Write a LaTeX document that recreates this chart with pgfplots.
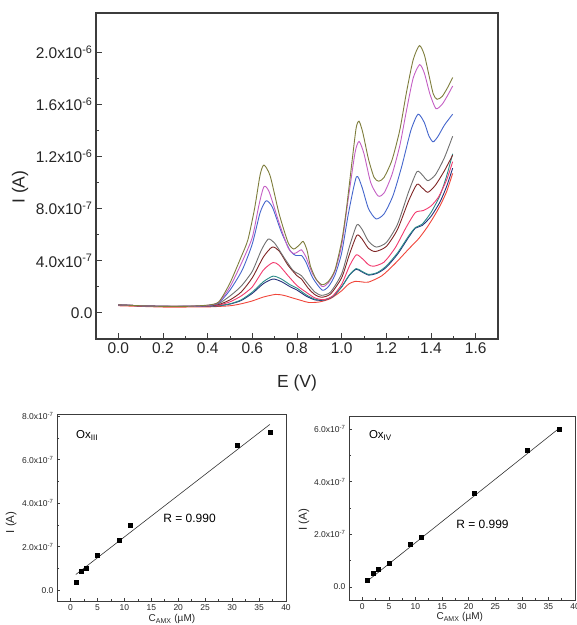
\documentclass[border=0pt]{standalone}
\usepackage{pgfplots}
\pgfplotsset{compat=1.18}
\usepackage{fontspec}
\setmainfont{Liberation Sans}

\definecolor{cOlive}{HTML}{7E7D3C}
\definecolor{cMag}{HTML}{C45FC4}
\definecolor{cBlue}{HTML}{4466CC}
\definecolor{cGray}{HTML}{707070}
\definecolor{cMaroon}{HTML}{7F2525}
\definecolor{cPink}{HTML}{F23A6E}
\definecolor{cTeal}{HTML}{2A8A88}
\definecolor{cNavy}{HTML}{24307A}
\definecolor{cRed}{HTML}{F0453A}
\definecolor{frame}{HTML}{3C3C3C}

\pgfplotsset{
  curve/.style={#1, line width=0.9pt, smooth, tension=0.4, no marks},
  inset/.style={
    scale only axis,
    axis line style={draw=frame, line width=0.8pt},
    xtick pos=bottom, ytick pos=left, tick align=inside,
    major tick length=3pt, minor tick length=1.6pt,
    every tick/.style={frame, line width=0.6pt},
    tick label style={font=\fontsize{8.5}{10}\selectfont, text=black!85},
    xmin=-2.5, xmax=40, xtick={0,5,...,40},
    xticklabels={0,5,10,15,20,25,30,35,40},
    minor x tick num=1, minor y tick num=1,
    scaled y ticks=false,
  },
}

\begin{document}
\begin{tikzpicture}[x=1pt,y=1pt]
\useasboundingbox (0,0) rectangle (577,625);

% main voltammograms
\begin{axis}[
  at={(96pt,286pt)}, anchor=south west,
  width=402pt, height=326pt, scale only axis,
  xmin=-0.1, xmax=1.7, ymin=-2e-7, ymax=2.3e-6,
  axis line style={draw=frame, line width=1.2pt},
  xtick pos=bottom, ytick pos=left, tick align=inside,
  major tick length=6pt, minor tick length=3pt,
  every tick/.style={frame, line width=0.9pt},
  xtick={0,0.2,...,1.6},
  xticklabels={0.0,0.2,0.4,0.6,0.8,1.0,1.2,1.4,1.6},
  ytick={0,4e-7,8e-7,1.2e-6,1.6e-6,2e-6},
  yticklabels={0.0,4.0x10\textsuperscript{-7},8.0x10\textsuperscript{-7},1.2x10\textsuperscript{-6},1.6x10\textsuperscript{-6},2.0x10\textsuperscript{-6}},
  minor x tick num=1, minor y tick num=1,
  scaled y ticks=false,
  tick label style={font=\fontsize{15.5}{18}\selectfont, text=black!85},
  xlabel={E (V)}, ylabel={I (A)},
  label style={font=\fontsize{17.5}{20}\selectfont, text=black!85},
  xlabel style={at={(axis description cs:0.5,-0.135)}, anchor=center},
  ylabel style={at={(axis description cs:-0.189,0.466)}, anchor=center},
]
\addplot[curve=cRed] coordinates {
 (0,0.55e-7) (0.1,0.5e-7) (0.2,0.45e-7) (0.3,0.45e-7) (0.4,0.46e-7) (0.5,0.55e-7)
 (0.55,0.7e-7) (0.6,0.92e-7) (0.65,1.22e-7) (0.704,1.42e-7) (0.74,1.35e-7)
 (0.78,1.15e-7) (0.82,0.95e-7) (0.853,0.8e-7) (0.9,0.84e-7) (0.95,1.1e-7)
 (1.0,1.7e-7) (1.032,2.22e-7) (1.06,2.42e-7) (1.09,2.38e-7) (1.12,2.36e-7)
 (1.18,2.85e-7) (1.24,3.8e-7) (1.30,4.9e-7) (1.345,5.7e-7) (1.38,6.5e-7)
 (1.41,7.3e-7) (1.44,8.2e-7) (1.47,9.3e-7) (1.497,10.7e-7)};
\addplot[curve=cNavy] coordinates {
 (0,0.6e-7) (0.1,0.55e-7) (0.2,0.5e-7) (0.3,0.5e-7) (0.4,0.5e-7) (0.45,0.55e-7)
 (0.5,0.68e-7) (0.55,0.95e-7) (0.6,1.5e-7) (0.65,2.25e-7) (0.693,2.6e-7)
 (0.73,2.4e-7) (0.77,2.0e-7) (0.80,1.75e-7) (0.84,1.3e-7) (0.88,1.0e-7)
 (0.92,0.98e-7) (0.96,1.25e-7) (1.0,2.0e-7) (1.035,2.9e-7) (1.065,3.35e-7)
 (1.09,3.15e-7) (1.121,2.9e-7) (1.16,3.05e-7) (1.2,3.5e-7) (1.25,4.5e-7)
 (1.3,5.8e-7) (1.33,6.5e-7) (1.36,6.7e-7) (1.40,7.4e-7) (1.44,8.5e-7)
 (1.47,9.7e-7) (1.497,11.1e-7)};
\addplot[curve=cTeal] coordinates {
 (0,0.6e-7) (0.1,0.55e-7) (0.2,0.5e-7) (0.3,0.5e-7) (0.4,0.5e-7) (0.45,0.56e-7)
 (0.5,0.7e-7) (0.55,1.0e-7) (0.6,1.6e-7) (0.65,2.4e-7) (0.693,2.82e-7)
 (0.73,2.6e-7) (0.77,2.15e-7) (0.80,1.9e-7) (0.84,1.4e-7) (0.88,1.05e-7)
 (0.92,1.0e-7) (0.96,1.25e-7) (1.0,2.0e-7) (1.035,2.92e-7) (1.065,3.4e-7)
 (1.09,3.2e-7) (1.121,2.95e-7) (1.16,3.1e-7) (1.2,3.6e-7) (1.25,4.6e-7)
 (1.3,5.9e-7) (1.33,6.55e-7) (1.36,6.8e-7) (1.40,7.7e-7) (1.44,9.0e-7)
 (1.47,10.5e-7) (1.497,12.2e-7)};
\addplot[curve=cPink] coordinates {
 (0,0.6e-7) (0.1,0.55e-7) (0.2,0.5e-7) (0.3,0.5e-7) (0.4,0.52e-7) (0.45,0.6e-7)
 (0.5,0.85e-7) (0.55,1.3e-7) (0.6,2.0e-7) (0.65,3.3e-7) (0.693,3.87e-7)
 (0.72,3.65e-7) (0.76,2.85e-7) (0.80,2.1e-7) (0.84,1.6e-7) (0.88,1.15e-7)
 (0.92,1.02e-7) (0.96,1.3e-7) (1.0,2.2e-7) (1.035,3.6e-7) (1.065,4.45e-7)
 (1.09,4.2e-7) (1.12,3.7e-7) (1.144,3.58e-7) (1.19,3.9e-7) (1.24,5.0e-7)
 (1.29,6.6e-7) (1.33,7.7e-7) (1.365,7.85e-7) (1.40,8.2e-7) (1.434,8.9e-7)
 (1.47,10.2e-7) (1.497,11.6e-7)};
\addplot[curve=cMaroon] coordinates {
 (0,0.62e-7) (0.1,0.55e-7) (0.2,0.5e-7) (0.3,0.5e-7) (0.4,0.54e-7) (0.45,0.65e-7)
 (0.5,1.0e-7) (0.55,1.6e-7) (0.6,2.7e-7) (0.65,4.3e-7) (0.689,5.05e-7)
 (0.72,4.75e-7) (0.76,3.65e-7) (0.80,2.85e-7) (0.82,2.6e-7) (0.85,1.9e-7)
 (0.88,1.4e-7) (0.91,1.2e-7) (0.95,1.45e-7) (1.0,2.7e-7) (1.035,4.5e-7)
 (1.068,5.95e-7) (1.09,5.7e-7) (1.12,4.95e-7) (1.151,4.71e-7) (1.2,5.1e-7)
 (1.25,6.4e-7) (1.3,8.6e-7) (1.337,9.86e-7) (1.36,9.6e-7) (1.386,9.25e-7)
 (1.42,9.8e-7) (1.46,10.9e-7) (1.497,12.1e-7)};
\addplot[curve=cGray] coordinates {
 (0,0.62e-7) (0.1,0.55e-7) (0.2,0.5e-7) (0.3,0.5e-7) (0.4,0.55e-7) (0.45,0.72e-7)
 (0.5,1.3e-7) (0.55,2.05e-7) (0.6,3.2e-7) (0.64,4.8e-7) (0.671,5.66e-7)
 (0.7,5.35e-7) (0.74,4.3e-7) (0.78,3.3e-7) (0.80,3.06e-7) (0.82,2.85e-7)
 (0.85,2.2e-7) (0.88,1.6e-7) (0.91,1.35e-7) (0.95,1.6e-7) (1.0,3.0e-7)
 (1.035,5.1e-7) (1.068,6.75e-7) (1.09,6.45e-7) (1.12,5.5e-7) (1.155,5.05e-7)
 (1.2,5.4e-7) (1.25,6.8e-7) (1.3,9.3e-7) (1.337,10.83e-7) (1.36,10.6e-7)
 (1.386,10.14e-7) (1.42,10.6e-7) (1.46,11.9e-7) (1.497,13.55e-7)};
\addplot[curve=cBlue] coordinates {
 (0,0.62e-7) (0.1,0.55e-7) (0.2,0.5e-7) (0.3,0.5e-7) (0.4,0.56e-7) (0.45,0.78e-7)
 (0.5,1.75e-7) (0.555,3.3e-7) (0.6,5.3e-7) (0.635,7.7e-7) (0.662,8.6e-7)
 (0.69,8.1e-7) (0.73,6.2e-7) (0.77,4.75e-7) (0.795,4.4e-7) (0.82,4.4e-7)
 (0.84,3.9e-7) (0.87,2.7e-7) (0.912,1.75e-7) (0.94,2.0e-7) (0.97,2.9e-7)
 (1.0,4.6e-7) (1.03,7.6e-7) (1.066,10.44e-7) (1.09,9.7e-7) (1.12,8.0e-7)
 (1.154,7.21e-7) (1.19,7.6e-7) (1.23,9.0e-7) (1.27,11.3e-7) (1.31,14.0e-7)
 (1.342,15.24e-7) (1.37,14.6e-7) (1.39,13.6e-7) (1.409,13.12e-7) (1.43,13.5e-7)
 (1.46,14.4e-7) (1.497,15.24e-7)};
\addplot[curve=cMag] coordinates {
 (0,0.62e-7) (0.1,0.55e-7) (0.2,0.5e-7) (0.3,0.5e-7) (0.4,0.58e-7) (0.45,0.82e-7)
 (0.5,2.0e-7) (0.555,3.95e-7) (0.6,5.8e-7) (0.63,8.3e-7) (0.652,9.68e-7)
 (0.675,9.3e-7) (0.72,6.9e-7) (0.76,5.0e-7) (0.785,4.55e-7) (0.805,4.7e-7)
 (0.82,4.84e-7) (0.84,4.3e-7) (0.87,3.0e-7) (0.912,2.03e-7) (0.94,2.3e-7)
 (0.97,3.2e-7) (1.0,5.2e-7) (1.03,8.8e-7) (1.06,12.3e-7) (1.078,13.15e-7)
 (1.1,12.2e-7) (1.13,10.0e-7) (1.163,8.97e-7) (1.19,9.2e-7) (1.225,10.6e-7)
 (1.26,12.8e-7) (1.29,15.5e-7) (1.32,18.0e-7) (1.349,19.04e-7) (1.37,18.4e-7)
 (1.395,16.8e-7) (1.422,15.67e-7) (1.45,16.0e-7) (1.475,16.7e-7) (1.497,17.4e-7)};
\addplot[curve=cOlive] coordinates {
 (0,0.62e-7) (0.1,0.55e-7) (0.2,0.5e-7) (0.3,0.5e-7) (0.4,0.6e-7) (0.45,0.85e-7)
 (0.5,2.3e-7) (0.55,4.3e-7) (0.58,5.6e-7) (0.61,8.0e-7) (0.635,10.6e-7)
 (0.652,11.34e-7) (0.68,10.5e-7) (0.72,7.6e-7) (0.76,5.4e-7) (0.785,4.9e-7)
 (0.81,5.2e-7) (0.828,5.48e-7) (0.845,4.8e-7) (0.86,3.6e-7) (0.885,2.6e-7)
 (0.912,2.16e-7) (0.94,2.4e-7) (0.97,3.3e-7) (1.0,5.5e-7) (1.02,7.8e-7)
 (1.047,11.7e-7) (1.065,14.2e-7) (1.078,14.7e-7) (1.095,13.8e-7) (1.12,11.8e-7)
 (1.145,10.4e-7) (1.166,10.1e-7) (1.19,10.4e-7) (1.225,11.7e-7) (1.26,14.0e-7)
 (1.29,16.9e-7) (1.32,19.4e-7) (1.348,20.5e-7) (1.37,19.8e-7) (1.39,18.3e-7)
 (1.41,16.8e-7) (1.427,16.38e-7) (1.45,16.6e-7) (1.475,17.3e-7) (1.497,18.05e-7)};
\end{axis}

% calibration, Ox III
\begin{axis}[inset,
  at={(57pt,24pt)}, anchor=south west, width=229pt, height=187pt,
  ymin=-0.5e-7, ymax=8.1e-7,
  ytick={0,2e-7,4e-7,6e-7,8e-7},
  yticklabels={0.0,2.0x10\textsuperscript{-7},4.0x10\textsuperscript{-7},6.0x10\textsuperscript{-7},8.0x10\textsuperscript{-7}},
  xlabel={C\textsubscript{AMX} (µM)}, ylabel={I (A)},
  xlabel style={at={(axis description cs:0.502,-0.097)}, anchor=center, font=\fontsize{10}{12}\selectfont, text=black!85},
  ylabel style={at={(axis description cs:-0.20,0.42)}, anchor=center, font=\fontsize{11.5}{13}\selectfont, text=black!85},
]
\addplot[black!80, line width=0.6pt] coordinates {(1,0.72e-7) (37,7.62e-7)};
\addplot[only marks, mark=square*, mark size=2pt, black] coordinates {
 (1,0.35e-7) (2,0.87e-7) (3,1.0e-7) (5,1.59e-7) (9,2.3e-7) (11,2.99e-7)
 (31,6.67e-7) (37,7.28e-7)};
\node[anchor=west, font=\fontsize{11.5}{13}\selectfont] at (axis cs:0.4,7.13e-7) {Ox\textsubscript{III}};
\node[font=\fontsize{12}{14}\selectfont] at (axis cs:22.1,3.31e-7) {R = 0.990};
\end{axis}

% calibration, Ox IV
\begin{axis}[inset,
  at={(349pt,25pt)}, anchor=south west, width=226pt, height=184pt,
  ymin=-0.5e-7, ymax=6.5e-7,
  ytick={0,2e-7,4e-7,6e-7},
  yticklabels={0.0,2.0x10\textsuperscript{-7},4.0x10\textsuperscript{-7},6.0x10\textsuperscript{-7}},
  xlabel={C\textsubscript{AMX} (µM)}, ylabel={I (A)},
  xlabel style={at={(axis description cs:0.49,-0.093)}, anchor=center, font=\fontsize{10}{12}\selectfont, text=black!85},
  ylabel style={at={(axis description cs:-0.20,0.435)}, anchor=center, font=\fontsize{11.5}{13}\selectfont, text=black!85},
]
\addplot[black!80, line width=0.6pt] coordinates {(1,0.23e-7) (37,6.03e-7)};
\addplot[only marks, mark=square*, mark size=2pt, black] coordinates {
 (1,0.24e-7) (2,0.51e-7) (3,0.67e-7) (5,0.9e-7) (9,1.64e-7) (11,1.89e-7)
 (21,3.57e-7) (31,5.19e-7) (37,5.99e-7)};
\node[anchor=west, font=\fontsize{11.5}{13}\selectfont] at (axis cs:0.6,5.77e-7) {Ox\textsubscript{IV}};
\node[font=\fontsize{12}{14}\selectfont] at (axis cs:22.6,2.38e-7) {R = 0.999};
\end{axis}
\end{tikzpicture}
\end{document}
